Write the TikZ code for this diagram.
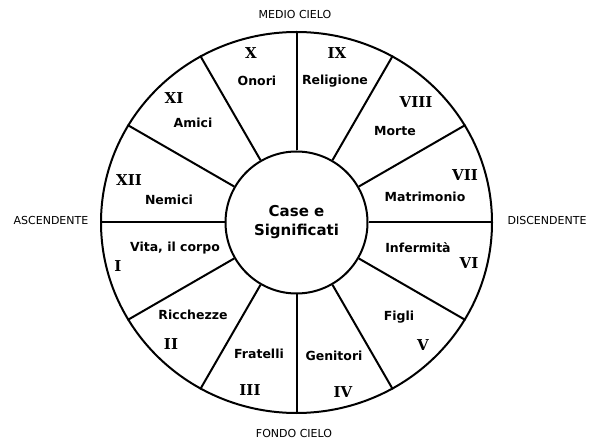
\documentclass[tikz,border=0pt]{standalone}
\usepackage{fontspec}
\setmainfont{DejaVu Sans}
\newfontfamily\numfont{DejaVu Serif}
\usetikzlibrary{shapes.geometric}
\tikzset{house label/.style={font=\bfseries\fontsize{12.5}{14}\selectfont, inner sep=1pt}}
\tikzset{house number/.style={font=\numfont\bfseries\fontsize{15}{17}\selectfont, inner sep=1pt}}
\tikzset{axis label/.style={font=\fontsize{11}{12}\selectfont, inner sep=1pt}}

\begin{document}
\begin{tikzpicture}[x=1pt, y=-1pt, line width=2pt]
\useasboundingbox (0,0) rectangle (591,443);
\node[ellipse, draw, minimum width=391pt, minimum height=381pt, inner sep=0pt] (wheel) at (296.5,222.5) {};
\node[circle, draw, minimum size=142pt, inner sep=0pt, align=center,
  font=\bfseries\fontsize{15}{19}\selectfont] (centre) at (296.5,222.5) {Case e\\Significati};
\foreach \a in {0,30,...,330}
  \draw (centre.\a) -- (wheel.\a);

% numeri delle case
\node[house number] (n1) at (118,266) {I};
\node[house number] (n2) at (171,344) {II};
\node[house number] (n3) at (250,390) {III};
\node[house number] (n4) at (343,392) {IV};
\node[house number] (n5) at (423,345) {V};
\node[house number] (n6) at (469,263) {VI};
\node[house number] (n7) at (465,175) {VII};
\node[house number] (n8) at (416,102) {VIII};
\node[house number] (n9) at (337,53) {IX};
\node[house number] (n10) at (251,53) {X};
\node[house number] (n11) at (174,98) {XI};
\node[house number] (n12) at (129,180) {XII};

% significati
\node[house label] (s1) at (175,248) {Vita, il corpo};
\node[house label] (s2) at (193,315) {Ricchezze};
\node[house label] (s3) at (259,354) {Fratelli};
\node[house label] (s4) at (334,356) {Genitori};
\node[house label] (s5) at (399,317) {Figli};
\node[house label] (s6) at (418,248) {Infermità};
\node[house label] (s7) at (425,197) {Matrimonio};
\node[house label] (s8) at (395,131) {Morte};
\node[house label] (s9) at (335,81) {Religione};
\node[house label] (s10) at (257,81) {Onori};
\node[house label] (s11) at (193,123) {Amici};
\node[house label] (s12) at (169,200) {Nemici};

% punti cardinali
\node[axis label] (mc) at (295,15) {MEDIO CIELO};
\node[axis label] (fc) at (294,433) {FONDO CIELO};
\node[axis label] (asc) at (51,220) {ASCENDENTE};
\node[axis label] (disc) at (547,220) {DISCENDENTE};
\end{tikzpicture}
\end{document}
